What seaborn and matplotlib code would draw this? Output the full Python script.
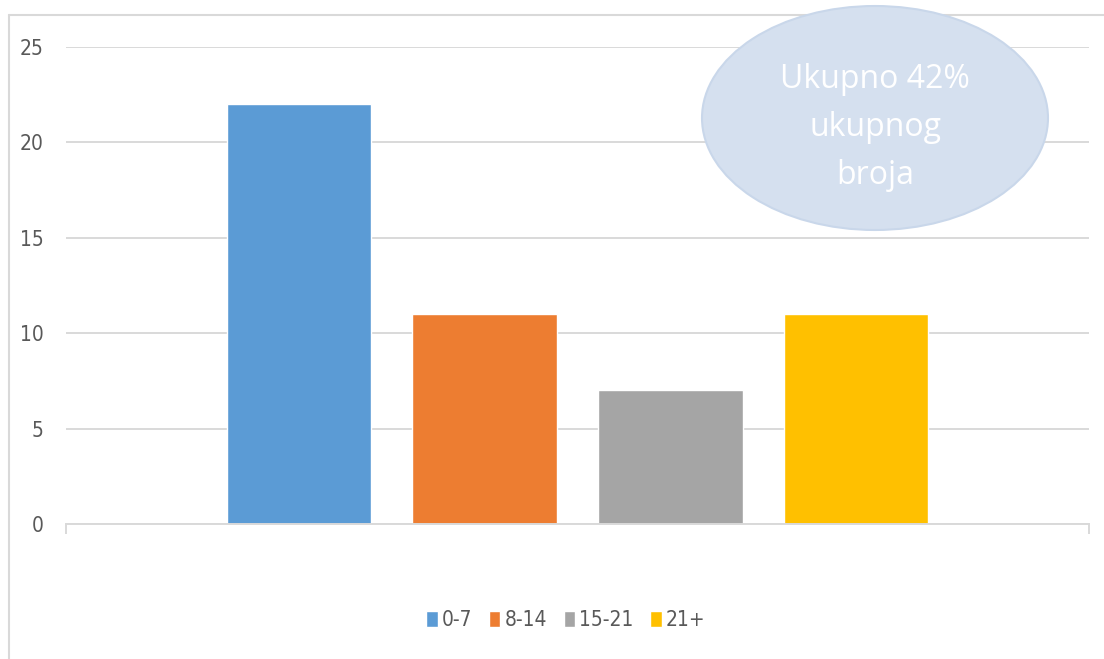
import pandas as pd
import seaborn as sns
from matplotlib import pyplot as plt
from matplotlib.lines import Line2D
from matplotlib.patches import Ellipse

# data
groups = ['0-7', '8-14', '15-21', '21+']
counts = [22, 11, 7, 11]
colors = ['#5b9bd5', '#ed7d31', '#a5a5a5', '#ffc000']
note = 'Ukupno 42%\nukupnog\nbroja'

df = pd.DataFrame({'grupa': [''] * len(groups), 'dob': groups, 'broj': counts})

sns.set_style('white')
plt.rcParams['font.family'] = ['DejaVu Sans']
plt.rcParams['font.stretch'] = 'condensed'
grey = '#d9d9d9'
txt = '#595959'

W, H = 1104, 659
fig = plt.figure(figsize=(W / 100, H / 100), dpi=100)
ax = fig.add_axes([66 / W, 135 / H, 1023 / W, 477 / H])

sns.barplot(data=df, x='grupa', y='broj', hue='dob', palette=colors,
            saturation=1, width=0.726, gap=0.22, ax=ax)

ax.set_ylim(0, 25)
ax.set_yticks(range(0, 26, 5))
ax.set_xlim(-0.5, 0.5)
ax.set_xticks([-0.5, 0.5])
ax.set_xticklabels(['', ''])
ax.set_xlabel('')
ax.set_ylabel('')
ax.yaxis.grid(True, color=grey, lw=1.4)
ax.set_axisbelow(True)
for side in ['left', 'right', 'top']:
    ax.spines[side].set_visible(False)
ax.spines['bottom'].set_color(grey)
ax.spines['bottom'].set_linewidth(1.4)
ax.tick_params(axis='y', length=0, pad=16, labelsize=15, labelcolor=txt)
ax.tick_params(axis='x', bottom=True, length=7, width=1.4, color=grey,
               direction='out')

sns.move_legend(ax, 'center', bbox_to_anchor=(566 / W, 1 - 620 / H),
                bbox_transform=fig.transFigure, ncol=4, frameon=False,
                title=None, fontsize=15, handlelength=0.55, handleheight=0.8,
                handletextpad=0.2, columnspacing=0.8)
for t in ax.get_legend().get_texts():
    t.set_color(txt)

# outer chart frame (left and top edges only are visible)
fig.add_artist(Line2D([9 / W, 9 / W], [0, 1 - 15 / H], transform=fig.transFigure,
                      color=grey, lw=1.5))
fig.add_artist(Line2D([9 / W, 1], [1 - 15 / H, 1 - 15 / H], transform=fig.transFigure,
                      color=grey, lw=1.5))

# callout ellipse
fig.add_artist(Ellipse((875 / W, 1 - 118 / H), 346 / W, 224 / H,
                       transform=fig.transFigure, facecolor='#d5e0ef',
                       edgecolor='#c9d7ea', lw=1.5, zorder=5))
fig.text(875 / W, 1 - 127 / H, note, ha='center', va='center', color='white',
         fontsize=23, family=['Open Sans', 'DejaVu Sans'], stretch='normal',
         linespacing=1.6, zorder=6)

fig.savefig('out.png', dpi=100)
